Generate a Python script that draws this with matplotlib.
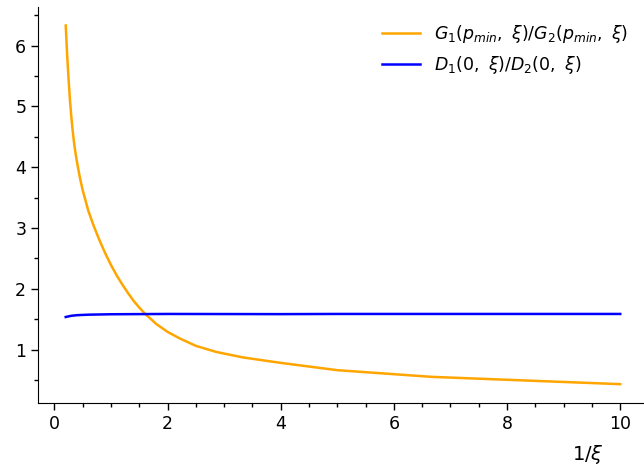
import matplotlib
matplotlib.use("Agg")
import matplotlib.pyplot as plt
from matplotlib.ticker import MultipleLocator

# Orange curve: G1/G2 ratio vs 1/xi
x_g = [0.2, 0.225, 0.25, 0.275, 0.3, 0.325, 0.35, 0.375, 0.4, 0.45, 0.5, 0.6, 0.7,
       0.8, 0.9, 1.0, 1.1, 1.2, 1.3, 1.4, 1.5, 1.6, 1.8, 2.0, 2.22, 2.5, 2.86, 3.33,
       4.0, 5.0, 6.67, 10.0]
y_g = [6.33, 5.85, 5.45, 5.10, 4.82, 4.58, 4.38, 4.22, 4.08, 3.83, 3.62, 3.28, 3.02,
       2.79, 2.58, 2.39, 2.22, 2.07, 1.93, 1.80, 1.69, 1.59, 1.42, 1.29, 1.18, 1.06,
       0.96, 0.87, 0.78, 0.66, 0.55, 0.43]

# Blue curve: D1/D2 ratio vs 1/xi
x_d = [0.2, 0.3, 0.4, 0.6, 1.0, 2.0, 4.0, 5.0, 10.0]
y_d = [1.535, 1.555, 1.565, 1.573, 1.58, 1.585, 1.582, 1.585, 1.585]

label_g = r"$G_1(p_{min},\ \xi)/G_2(p_{min},\ \xi)$"
label_d = r"$D_1(0,\ \xi)/D_2(0,\ \xi)$"

fig = plt.figure(figsize=(6.44, 4.66), dpi=100)
ax = fig.add_axes([38/644, 1-403/466, 1-38/644, (403-7.3)/466])

ax.plot(x_g, y_g, color="#FFA500", lw=1.8, label=label_g)
ax.plot(x_d, y_d, color="#0000FF", lw=1.8, label=label_d)

ax.set_xlim(-0.29, 10.42)
ax.set_ylim(0.12, 6.63)

ax.spines["top"].set_visible(False)
ax.spines["right"].set_visible(False)
ax.xaxis.set_major_locator(MultipleLocator(2))
ax.xaxis.set_minor_locator(MultipleLocator(0.5))
ax.yaxis.set_major_locator(MultipleLocator(1))
ax.yaxis.set_minor_locator(MultipleLocator(0.5))
ax.tick_params(which="major", length=5, width=1, labelsize=12.5)
ax.tick_params(which="minor", length=3, width=1)

ax.legend(loc="upper right", frameon=False, fontsize=12.5, handlelength=2.2,
          bbox_to_anchor=(1.0, 1.0))

fig.text(588/644, 1-455/466, r"$1/\xi$", fontsize=14, ha="center", va="center")

fig.savefig("out.png", dpi=100)
